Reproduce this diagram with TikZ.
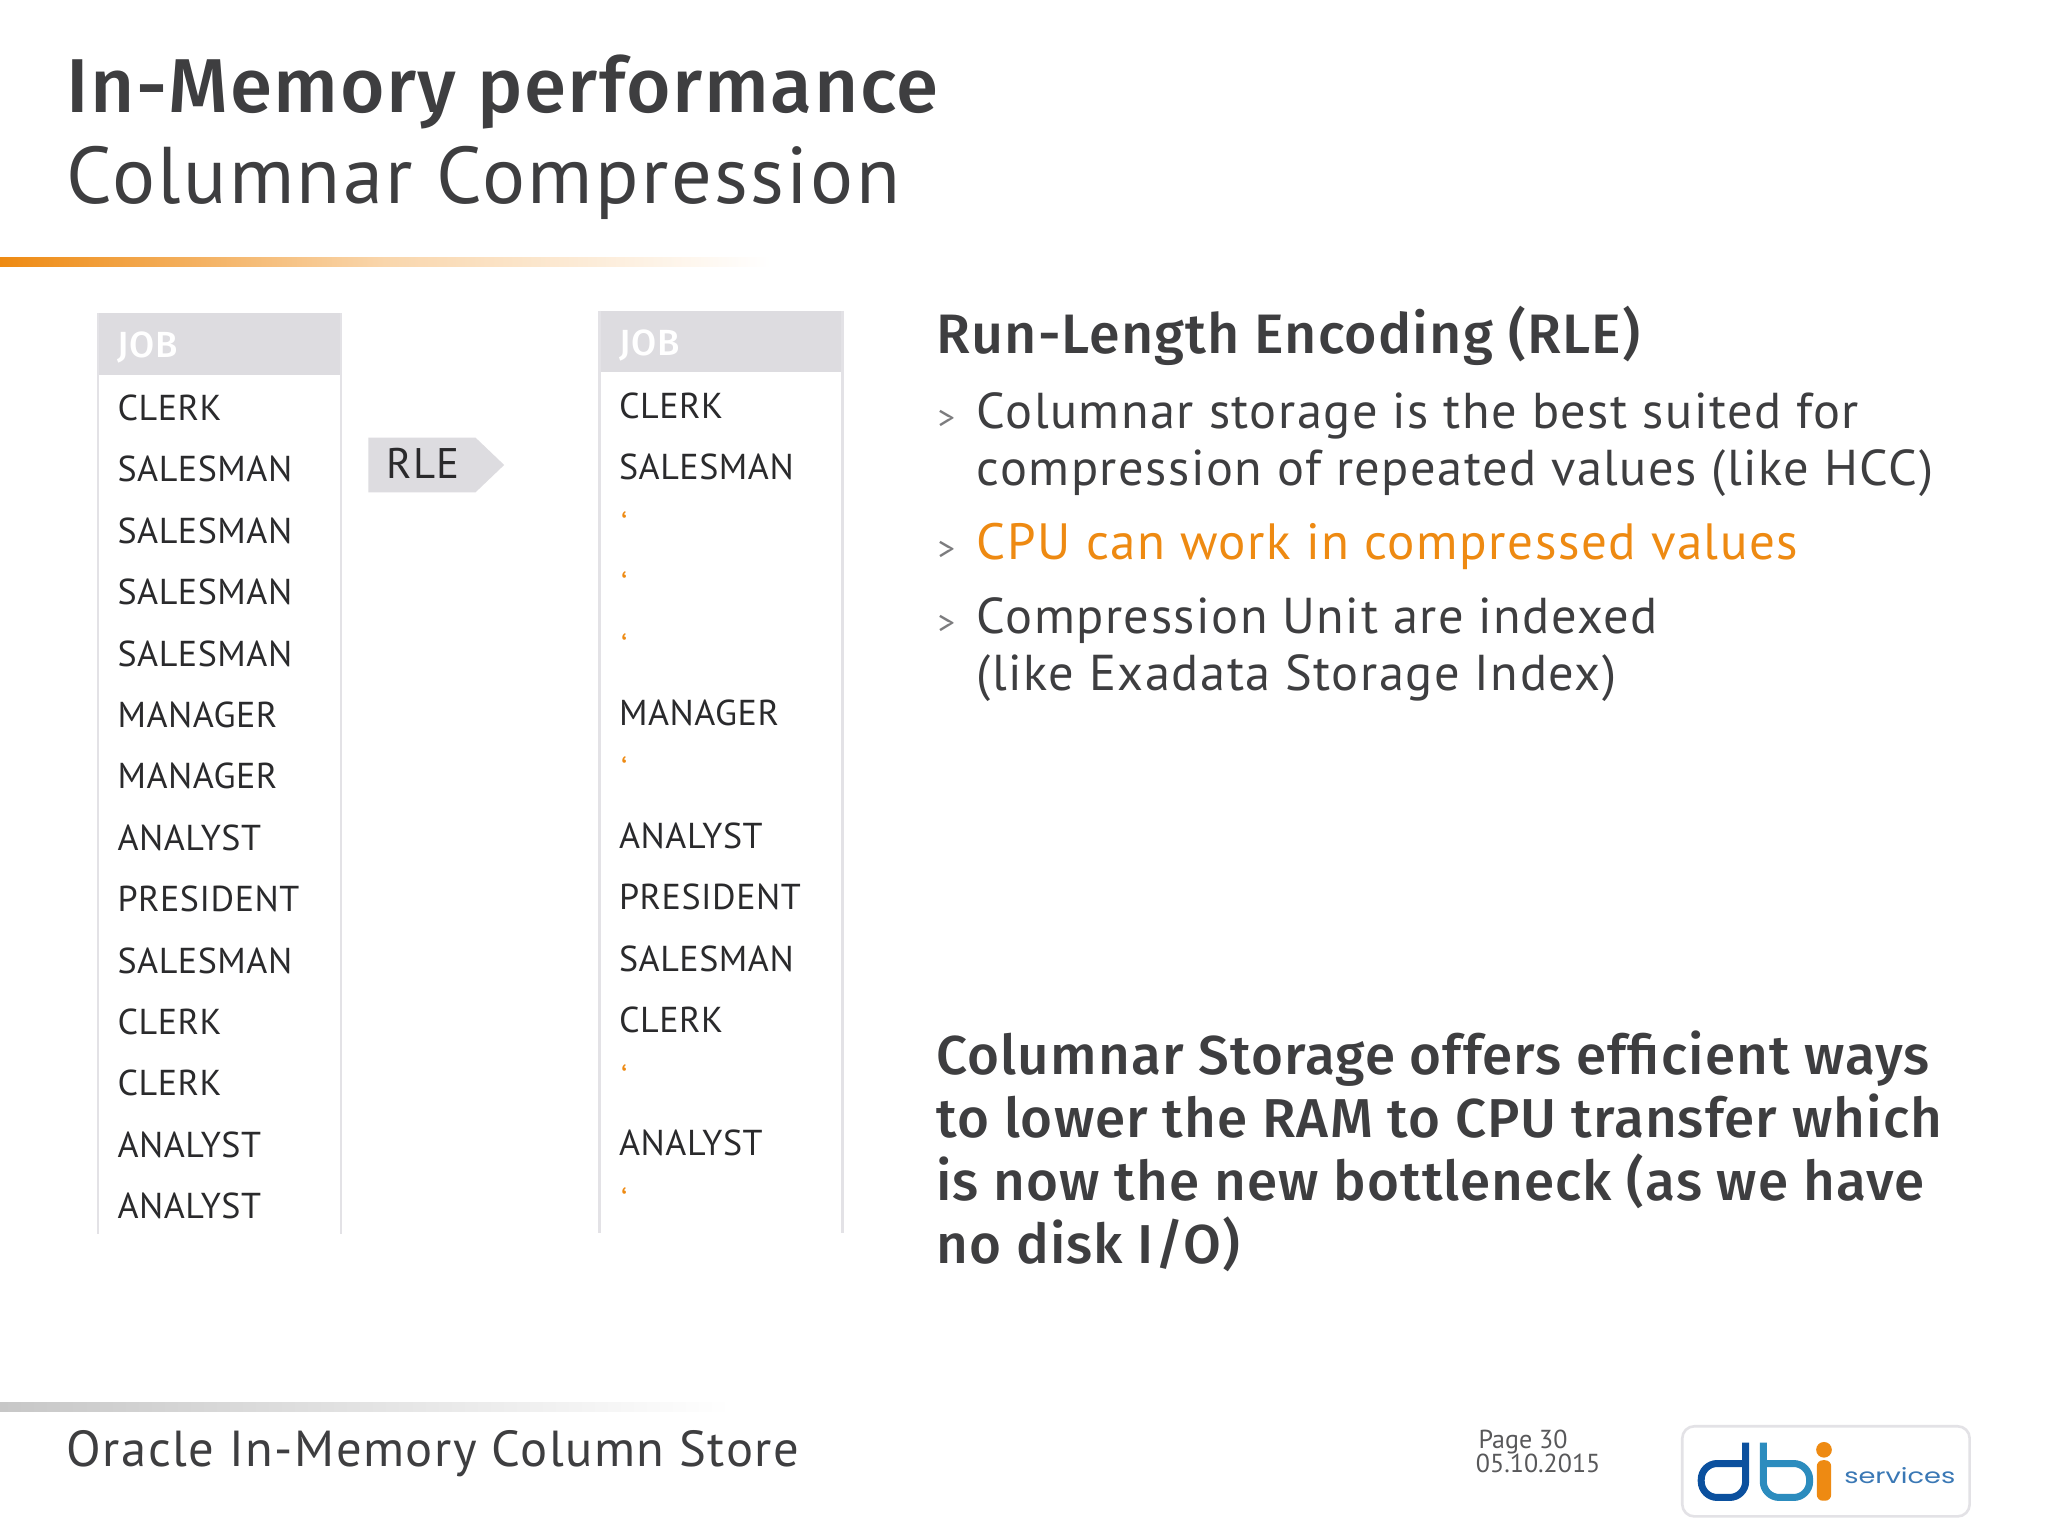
\documentclass[tikz,border=0pt]{standalone}
\usepackage{fontspec}
\setmainfont{PT Sans}
\newfontfamily\medfont{Fira Sans}[UprightFont=* Medium,LetterSpace=2]
\newfontfamily\regfont{PT Sans}[LetterSpace=3]
\newfontfamily\rowfont{PT Sans}[LetterSpace=1.5]
\newfontfamily\logofont{Poppins}
\definecolor{txt}{HTML}{3E3E40}
\definecolor{ink}{HTML}{2A2A2C}
\definecolor{hdr}{HTML}{DDDCE0}
\definecolor{rulec}{HTML}{E3E2E6}
\definecolor{orng}{HTML}{EE8A12}
\definecolor{graytxt}{HTML}{58585A}
\definecolor{bulc}{HTML}{7C7C7E}
\definecolor{logoa}{HTML}{0B509E}
\definecolor{logob}{HTML}{2C8CBE}
\definecolor{logos}{HTML}{3A78B5}
\tikzset{
  lab/.style={anchor=base west,inner sep=0pt,outer sep=0pt,text=#1},
  lab/.default=txt,
  row/.style={lab=ink,font=\rowfont\fontsize{18}{18}\selectfont},
  hd/.style={lab=white,font=\medfont\fontsize{18.2}{18.2}\selectfont},
  tick/.style={lab=orng,font=\fontsize{16}{16}\selectfont},
  body/.style={lab=txt,font=\regfont\fontsize{25.2}{25.2}\selectfont},
  heavy/.style={lab=txt,font=\medfont\fontsize{27.4}{27.4}\selectfont},
  bul/.style={lab=bulc,font=\fontsize{17}{17}\selectfont},
  colrule/.style={draw=rulec,line width=1.3pt},
}
\begin{document}
\begin{tikzpicture}[x=0.6531pt,y=-0.6531pt]
\useasboundingbox (0,0) rectangle (1568,1176);
\fill[white] (0,0) rectangle (1568,1176);
% title
\node[lab,font=\medfont\fontsize{38.2}{38.2}\selectfont] (t1) at (51,86) {In-Memory performance};
\node[lab,font=\regfont\fontsize{40.2}{40.2}\selectfont] (t2) at (51,156) {Columnar Compression};
\shade[left color=orng,right color=white,middle color=orng!35] (0,197) rectangle (590,204);
% left column
\fill[hdr] (75,240) rectangle (261,287);
\draw[colrule] (75,240) -- (75,945);
\draw[colrule] (261,240) -- (261,945);
\node[hd] (lh) at (90,274) {JOB};
\foreach \t [count=\i from 0] in {CLERK,SALESMAN,SALESMAN,SALESMAN,SALESMAN,MANAGER,MANAGER,ANALYST,PRESIDENT,SALESMAN,CLERK,CLERK,ANALYST,ANALYST}
  \node[row] (l\i) at (90,{322+47*\i}) {\t};
% arrow
\fill[hdr] (282,335) -- (364,335) -- (386,356) -- (364,377) -- (282,377) -- cycle;
\node[lab=ink,font=\regfont\fontsize{21.4}{21.4}\selectfont] (rle) at (296,366) {RLE};
% right column
\fill[hdr] (459,238) rectangle (645,285);
\draw[colrule] (459,238) -- (459,944);
\draw[colrule] (645,238) -- (645,944);
\node[hd] (rh) at (474,272.5) {JOB};
\foreach \t/\y/\n in {CLERK/320.5/a,SALESMAN/367.5/b,MANAGER/555.5/c,ANALYST/649.5/d,PRESIDENT/696.5/e,SALESMAN/743.5/f,CLERK/790.5/g,ANALYST/884.5/h}
  \node[row] (r\n) at (474,\y) {\t};
\foreach \y/\n in {411/a,457/b,504/c,598/d,834/e,928/f}
  \node[tick] (q\n) at (475.5,\y) {‘};
% right text
\node[lab,font=\medfont\fontsize{27.8}{27.8}\selectfont] (h1) at (717,271) {Run-Length Encoding (RLE)};
\node[bul] (b1) at (718,329) {>};
\node[body] (s1) at (748,328) {Columnar storage is the best suited for};
\node[body] (s2) at (748,372) {compression of repeated values (like HCC)};
\node[bul] (b2) at (718,429) {>};
\node[lab=orng,font=\regfont\fontsize{25.5}{25.5}\selectfont] (s3) at (748,428) {CPU can work in compressed values};
\node[bul] (b3) at (718,486) {>};
\node[body] (s4) at (748,485) {Compression Unit are indexed};
\node[body] (s5) at (748,529) {(like Exadata Storage Index)};
\foreach \t/\y/\n in {Columnar Storage offers efficient ways/823/a,to lower the RAM to CPU transfer which/871/b,is now the new bottleneck (as we have/919/c}
  \node[heavy] (m\n) at (717,\y) {\t};
\node[heavy] (md) at (717,967) {no disk I/O)};
% footer
\shade[left color=black!22,right color=white] (0,1074) rectangle (560,1081);
\node[lab,font=\regfont\fontsize{25.3}{25.3}\selectfont] (f1) at (51,1123) {Oracle In-Memory Column Store};
\node[lab=graytxt,font=\fontsize{13}{13}\selectfont] (pg) at (1132,1109) {Page 30};
\node[lab=graytxt,font=\fontsize{13}{13}\selectfont] (dt) at (1130,1127) {05.10.2015};
% logo
\draw[rulec,line width=1.3pt,rounded corners=6pt,fill=white] (1288,1092) rectangle (1508,1161);
\begin{scope}[line width=3.5pt,line join=round]
\draw[logoa,rounded corners=8pt] (1336.5,1104.5) -- (1336.5,1146.5) -- (1302.5,1146.5) -- (1302.5,1120.5) -- (1336.5,1120.5);
\draw[logob,rounded corners=8pt] (1350,1104.5) -- (1350,1146.5) -- (1385.5,1146.5) -- (1385.5,1120.5) -- (1350,1120.5);
\end{scope}
\fill[orng,rounded corners=3pt] (1391,1118) rectangle (1402,1149);
\fill[orng] (1396.5,1110) circle (6);
\node[lab=logos,font=\logofont\fontsize{10.5}{10.5}\selectfont,xscale=1.3] (sv) at (1412,1136) {services};
\end{tikzpicture}
\end{document}
